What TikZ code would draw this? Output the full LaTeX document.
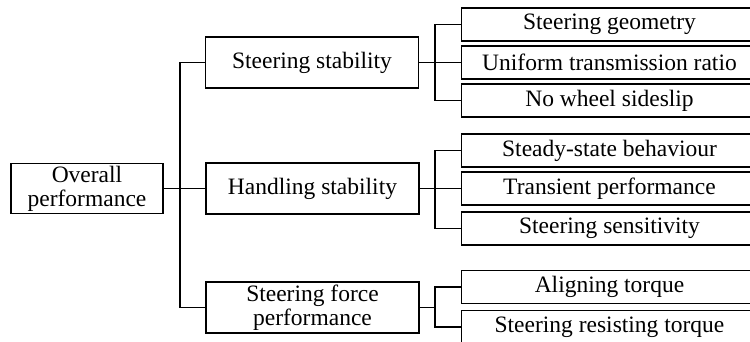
\documentclass[tikz,border=0pt]{standalone}
\usepackage{fontspec}
\setmainfont{Liberation Serif}
\begin{document}
\begin{tikzpicture}[x=1pt,y=-1pt,line width=1.1pt,
    box/.style={draw,inner sep=0pt,align=center,font=\fontsize{23.5}{24}\selectfont},
    midbox/.style={box,minimum width=213pt,minimum height=51pt},
    leafbox/.style={box,minimum width=296pt,minimum height=33pt}]
    \useasboundingbox (0,0) rectangle (750,342);
    \clip (0,0) rectangle (750,342);
    % root and second level
    \node[box,minimum width=152pt,minimum height=50pt] (op) at (87,188.5) {Overall\\performance};
    \node[midbox] (ss) at (312,62.5) {Steering stability};
    \node[midbox] (hs) at (312.5,188.5) {Handling stability};
    \node[midbox] (sf) at (312.5,307.5) {Steering force\\performance};
    % leaves
    \node[leafbox] (sg) at (609.5,24.5) {Steering geometry};
    \node[leafbox] (ut) at (609.5,62.5) {Uniform transmission ratio};
    \node[leafbox] (nw) at (609.5,100.5) {No wheel sideslip};
    \node[leafbox] (sb) at (609.5,150.5) {Steady-state behaviour};
    \node[leafbox] (tp) at (609.5,188.5) {Transient performance};
    \node[leafbox] (sv) at (609.5,228.5) {Steering sensitivity};
    \node[leafbox] (at) at (609.5,287) {Aligning torque};
    \node[leafbox] (rt) at (609.5,327) {Steering resisting torque};
    % branch points
    \coordinate (t) at (180,188.5);
    \coordinate (b1) at (435,62.5);
    \coordinate (b2) at (435,188.5);
    \coordinate (b3) at (435,307.5);
    % connectors
    \draw (op.east) -- (hs.west);
    \draw (ss.west) -| (t) |- (sf.west);
    \draw (ss.east) -- (ut.west);
    \draw (sg.west) -| (b1) |- (nw.west);
    \draw (hs.east) -- (tp.west);
    \draw (sb.west) -| (b2) |- (sv.west);
    \draw (sf.east) -- (b3);
    \draw (at.west) -| (b3) |- (rt.west);
\end{tikzpicture}
\end{document}
